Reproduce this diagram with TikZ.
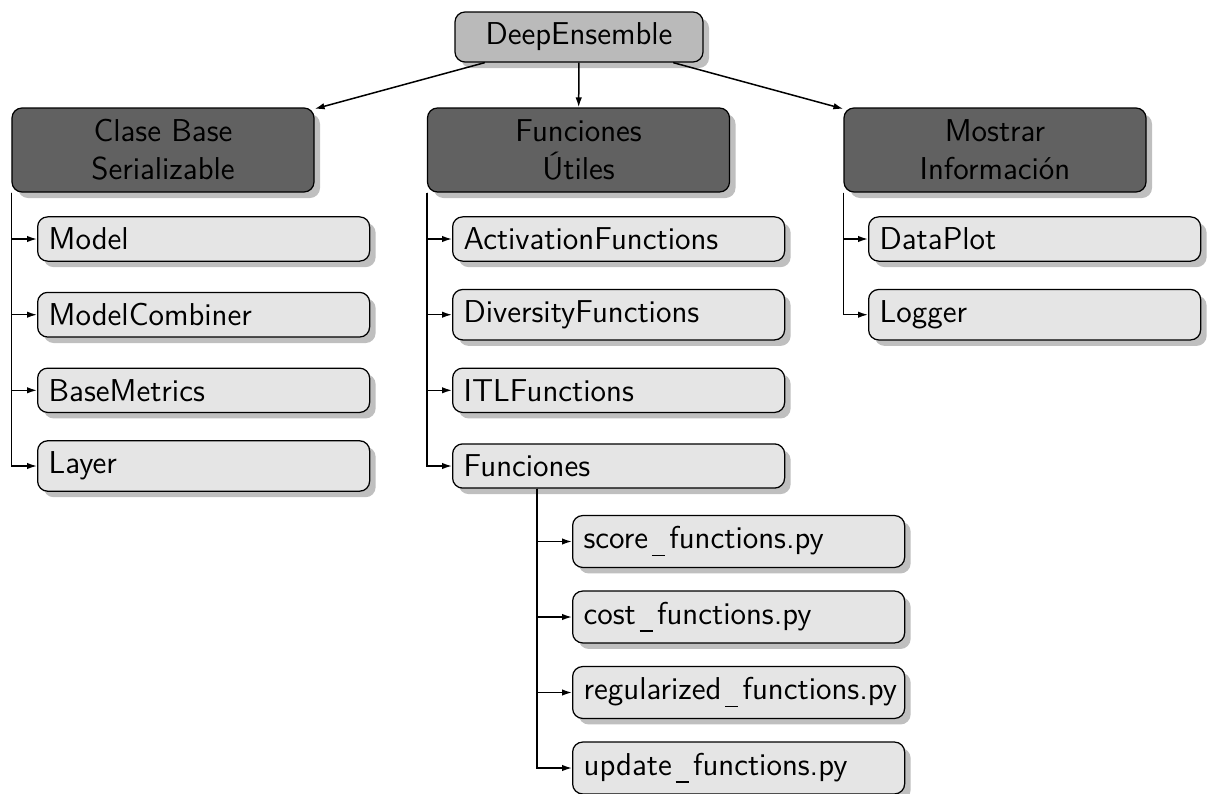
\documentclass[tikz,border=0pt]{standalone}
\usetikzlibrary{arrows.meta,shadows,calc}
% low rule between words of file names, with a little space on both sides
\newcommand{\undersc}{\kern0.12em\rule[-0.24em]{0.41em}{0.06em}\kern0.14em}
\begin{document}
\begin{tikzpicture}[x=0.4pt,y=-0.4pt,
  font=\sffamily\fontsize{12.65}{15.2}\selectfont,
  box/.style={draw=black, line width=0.5pt, rounded corners=4pt,
    drop shadow={shadow xshift=2.4pt, shadow yshift=-2.4pt, fill=black!25, opacity=1}},
  rootbox/.style={box, fill=black!27, minimum width=99.2pt, minimum height=20pt, inner sep=0pt},
  groupbox/.style={box, fill=black!62, minimum width=120.8pt, minimum height=33.6pt,
    align=center, inner sep=0pt},
  leafbox/.style={box, fill=black!10, text width=124pt, align=left, inner sep=4.4pt, anchor=west},
  arr/.style={-{Latex[length=4pt,width=2.6pt]}, line width=0.6pt}
]
\useasboundingbox (0,0) rectangle (1208,794);

% root and the three groups
\node[rootbox] (root) at (579,37) {DeepEnsemble};
\node[groupbox] (g1) at (163,150) {Clase Base\\Serializable};
\node[groupbox] (g2) at (578.5,150) {Funciones\\Útiles};
\node[groupbox] (g3) at (995,150) {Mostrar\\Información};

% serializable base classes
\node[leafbox] (b1) at (37,239)   {Model};
\node[leafbox] (b2) at (37,314.7) {ModelCombiner};
\node[leafbox] (b3) at (37,390.3) {BaseMetrics};
\node[leafbox] (b4) at (37,466)   {Layer};

% utility functions
\node[leafbox] (u1) at (452,239)   {ActivationFunctions};
\node[leafbox] (u2) at (452,314.7) {DiversityFunctions};
\node[leafbox] (u3) at (452,390.3) {ITLFunctions};
\node[leafbox] (u4) at (452,466)   {Funciones};

% function modules
\node[leafbox] (f1) at (572,541.5) {score\undersc functions.py};
\node[leafbox] (f2) at (572,617)   {cost\undersc functions.py};
\node[leafbox] (f3) at (572,692.5) {regularized\undersc functions.py};
\node[leafbox] (f4) at (572,768)   {update\undersc functions.py};

% information display
\node[leafbox] (m1) at (868,239)   {DataPlot};
\node[leafbox] (m2) at (868,314.7) {Logger};

% connectors
\draw[arr] (root) -- (g1);
\draw[arr] (root) -- (g2);
\draw[arr] (root) -- (g3);

\foreach \c in {b1,b2,b3,b4} \draw[arr] (g1.south west) |- (\c.west);
\foreach \c in {u1,u2,u3,u4} \draw[arr] (g2.south west) |- (\c.west);
\foreach \c in {m1,m2} \draw[arr] (g3.south west) |- (\c.west);

\coordinate (usplit) at ($(u4.south west)+(85,0)$);
\foreach \c in {f1,f2,f3,f4} \draw[arr] (usplit) |- (\c.west);
\end{tikzpicture}
\end{document}
